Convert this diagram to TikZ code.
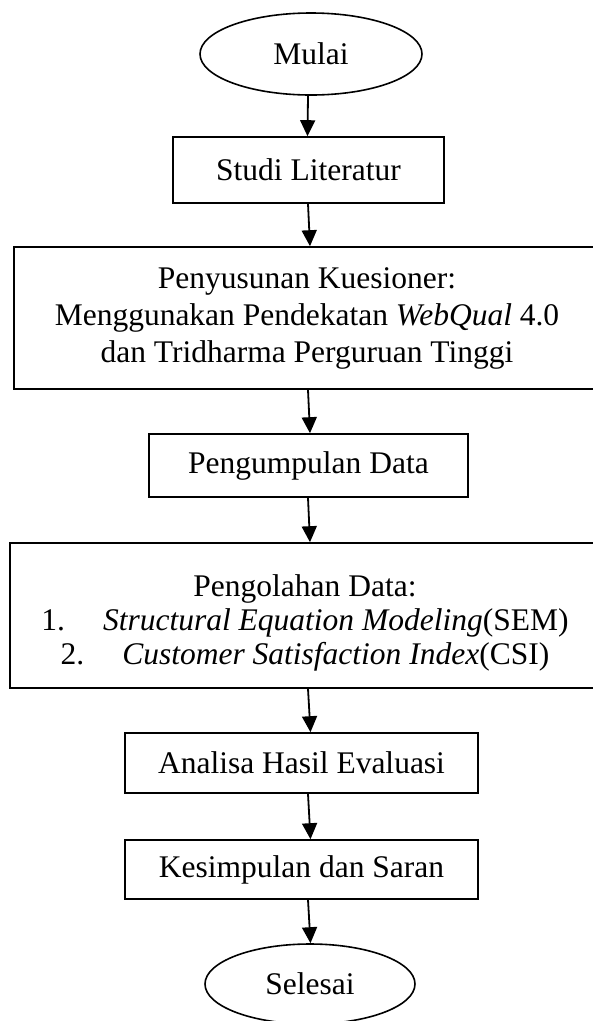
\documentclass[tikz,border=0pt]{standalone}
\usepackage{fontspec}
\setmainfont{Liberation Serif}
\usetikzlibrary{arrows.meta,shapes.geometric}
\begin{document}
\begin{tikzpicture}[x=1pt,y=-1pt,
  box/.style={draw, line width=1.6pt, rectangle, inner sep=0pt, align=center, font=\fontsize{31.5}{37}\selectfont},
  txt/.style={inner sep=0pt, align=center, font=\fontsize{31.5}{34}\selectfont},
  term/.style={draw, line width=1.6pt, ellipse, inner sep=0pt, font=\fontsize{31.5}{37}\selectfont},
  arr/.style={line width=1.8pt, -{Triangle[length=16pt,width=15pt]}}]
\useasboundingbox (0,0) rectangle (593,1021);
\node[term, minimum width=222pt, minimum height=82pt] (mulai) at (311,54) {Mulai};
\node[box, minimum width=271pt, minimum height=66pt] (studi) at (308.5,170) {Studi Literatur};
\node[box, minimum width=586pt, minimum height=142pt] (kues) at (307,318) {Penyusunan Kuesioner:\\ Menggunakan Pendekatan \textit{WebQual} 4.0\\ dan Tridharma Perguruan Tinggi};
\node[box, minimum width=319pt, minimum height=63pt] (kumpul) at (308.5,465.5) {Pengumpulan Data};
\node[box, minimum width=590pt, minimum height=145pt] (olah) at (305,615.5) {};
\node[txt] (olahtxt) at (305,623) {Pengolahan Data:\\ 1.\hspace{38pt}\textit{Structural Equation Modeling}(SEM)\\ 2.\hspace{38pt}\textit{Customer Satisfaction Index}(CSI)};
\node[box, minimum width=353pt, minimum height=60pt] (analisa) at (301.5,763) {Analisa Hasil Evaluasi};
\node[box, minimum width=353pt, minimum height=59pt] (simpul) at (301.5,869.5) {Kesimpulan dan Saran};
\node[term, minimum width=210pt, minimum height=80pt] (selesai) at (310,984) {Selesai};
\draw[arr] ([xshift=-3pt]mulai.south) -- ([xshift=-1pt]studi.north);
\draw[arr] ([xshift=-0.5pt]studi.south) -- ([xshift=3pt]kues.north);
\draw[arr] ([xshift=1pt]kues.south) -- ([xshift=1.5pt]kumpul.north);
\draw[arr] ([xshift=-0.5pt]kumpul.south) -- ([xshift=5pt]olah.north);
\draw[arr] ([xshift=3pt]olah.south) -- ([xshift=9pt]analisa.north);
\draw[arr] ([xshift=6.5pt]analisa.south) -- ([xshift=9pt]simpul.north);
\draw[arr] ([xshift=6.5pt]simpul.south) -- ([xshift=0.5pt]selesai.north);
\end{tikzpicture}
\end{document}
